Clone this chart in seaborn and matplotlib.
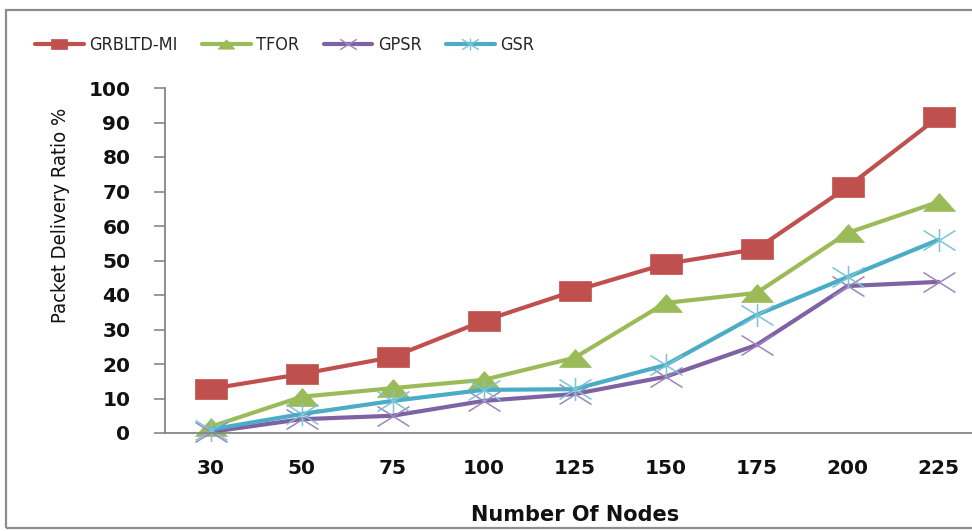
import numpy as np
import pandas as pd
import matplotlib
matplotlib.use("Agg")
import matplotlib.pyplot as plt
from matplotlib.path import Path
from matplotlib.lines import Line2D
from matplotlib.patches import Rectangle
from matplotlib import font_manager
import seaborn as sns

# ---- data ----
nodes = ["30", "50", "75", "100", "125", "150", "175", "200", "225"]
grbltd_mi = [12.8, 17.1, 22.0, 32.5, 41.2, 49.0, 53.3, 71.3, 91.6]
tfor = [1.8, 10.5, 13.0, 15.4, 21.8, 37.7, 40.6, 58.0, 67.0]
gpsr = [0.3, 4.0, 5.0, 9.3, 11.3, 16.3, 25.5, 42.6, 43.8]
gsr = [1.0, 5.5, 9.3, 12.5, 12.7, 19.7, 34.2, 45.2, 56.0]
series_names = ["GRBLTD-MI", "TFOR", "GPSR", "GSR"]
y_ticks = [0, 10, 20, 30, 40, 50, 60, 70, 80, 90, 100]

sns.set_theme(style="white")
names = {f.name for f in font_manager.fontManager.ttflist}
narrow = "Liberation Sans Narrow" if "Liberation Sans Narrow" in names else "DejaVu Sans"
plt.rcParams["font.family"] = ["DejaVu Sans"]

W, H = 972, 531
fig = plt.figure(figsize=(W / 100, H / 100), dpi=100)
ax_left, ax_right, ax_bot, ax_top = 165, 972, 433, 88
ax = fig.add_axes([ax_left / W, 1 - ax_bot / H, (ax_right - ax_left) / W, (ax_bot - ax_top) / H])

# markers (stretched like the reference)
sq = Path([(-1.6, -1), (1.6, -1), (1.6, 1), (-1.6, 1), (-1.6, -1)],
          [Path.MOVETO, Path.LINETO, Path.LINETO, Path.LINETO, Path.CLOSEPOLY])
tri = Path([(-1.6, -0.9), (1.6, -0.9), (0, 0.9), (-1.6, -0.9)],
           [Path.MOVETO, Path.LINETO, Path.LINETO, Path.CLOSEPOLY])
xm = Path([(-1.6, -1), (1.6, 1), (-1.6, 1), (1.6, -1)],
          [Path.MOVETO, Path.LINETO, Path.MOVETO, Path.LINETO])
star = Path([(-1.6, -1), (1.6, 1), (-1.6, 1), (1.6, -1), (0, -1.15), (0, 1.15)],
            [Path.MOVETO, Path.LINETO, Path.MOVETO, Path.LINETO, Path.MOVETO, Path.LINETO])

colors = ["#C0504D", "#9BBB59", "#7F62A3", "#4BACC6"]
mcolors = ["#C0504D", "#9BBB59", "#9C86BC", "#7CC3D8"]
markers = [sq, tri, xm, star]
msizes = [23, 23, 23, 23]
filled = [True, True, False, False]
values = [grbltd_mi, tfor, gpsr, gsr]

x = np.arange(len(nodes))
for name, vals, c, mc, m, ms, f in zip(series_names, values, colors, mcolors, markers, msizes, filled):
    df = pd.DataFrame({"x": x, "y": vals})
    sns.lineplot(data=df, x="x", y="y", ax=ax, color=c, linewidth=3.0,
                 marker=m, markersize=ms,
                 markerfacecolor=(mc if f else "none"), markeredgecolor=mc,
                 markeredgewidth=(0.5 if f else 1.1), clip_on=False, legend=False)

ax.set_xlim(-0.5, -0.5 + (ax_right - ax_left) / 91.0)
ax.set_ylim(0, 100)
ax.set_xticks(x)
ax.set_xticklabels(nodes)
ax.set_yticks(y_ticks)
ax.set_yticklabels([str(v) for v in y_ticks])
for lab in ax.get_xticklabels() + ax.get_yticklabels():
    lab.set_fontweight("bold")
    lab.set_fontsize(14.5)
    lab.set_color("#111111")
ax.tick_params(axis="x", length=0, pad=19)
ax.tick_params(axis="y", length=8, width=1.2, color="#868686", direction="out", pad=17, left=True)

for s in ["top", "right"]:
    ax.spines[s].set_visible(False)
for s in ["left", "bottom"]:
    ax.spines[s].set_color("#868686")
    ax.spines[s].set_linewidth(1.3)

ax.set_xlabel("Number Of Nodes", fontsize=15, fontweight="bold", color="#111111")
ax.xaxis.set_label_coords((575 - ax_left) / (ax_right - ax_left), (ax_bot - 505) / (ax_bot - ax_top))
ax.set_ylabel("Packet Delivery Ratio %", fontsize=14.5, family=[narrow], color="#111111",
              fontstretch="condensed")
ax.yaxis.set_label_coords((70 - ax_left) / (ax_right - ax_left), (ax_bot - 215) / (ax_bot - ax_top))

# legend
leg_markers = [sq, tri, xm, star]
handles = [Line2D([], [], color=c, linewidth=3.0, marker=m, markersize=12,
                  markerfacecolor=(mc if f else "none"), markeredgecolor=mc,
                  markeredgewidth=(0.5 if f else 1.0))
           for c, mc, m, f in zip(colors, mcolors, leg_markers, filled)]
fig.legend(handles, series_names, loc="center left", bbox_to_anchor=(35 / W, 1 - 45 / H),
           ncol=4, frameon=False, borderpad=0, borderaxespad=0,
           handlelength=2.7, handletextpad=0.3, columnspacing=1.35,
           prop={"family": [narrow], "size": 13, "stretch": "condensed"})

# outer chart border
fig.patches.append(Rectangle((6 / W, 1 - 528 / H), 1.2, (528 - 10) / H, transform=fig.transFigure,
                             fill=False, edgecolor="#8C8C8C", linewidth=1.6))

fig.savefig("out.png", dpi=100)
